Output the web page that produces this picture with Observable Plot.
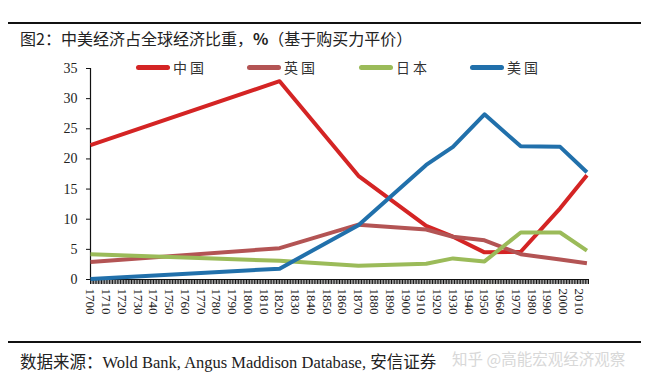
<!DOCTYPE html>
<html>
<head>
<meta charset="utf-8">
<script src="https://cdn.jsdelivr.net/npm/d3@7"></script>
<script src="https://cdn.jsdelivr.net/npm/@observablehq/plot@0.6"></script>
<style>
  html, body { margin: 0; padding: 0; background: #fff; }
  #wrap { position: relative; width: 652px; height: 388px; overflow: hidden; background: #fff; }
  .rule { position: absolute; left: 8px; width: 633px; height: 1.5px; background: #111; }
  #title { position: absolute; left: 20px; top: 26px; font-family: "Noto Sans CJK SC", sans-serif; font-size: 16px; color: #222; white-space: nowrap; }
  #source { position: absolute; left: 20px; top: 349px; font-family: "Liberation Serif", "Noto Sans CJK SC", serif; font-size: 16.5px; color: #222; white-space: nowrap; }
  #mark { position: absolute; left: 452px; top: 347px; font-family: "Noto Sans CJK SC", sans-serif; font-size: 15.5px; color: #d8d8d8; white-space: nowrap; }
  .sw { position: absolute; top: 65px; width: 34px; height: 5px; border-radius: 3px; }
  .lg { position: absolute; top: 57px; font-family: "Noto Sans CJK SC", sans-serif; font-size: 14px; color: #333; letter-spacing: 3px; }
  #chart { position: absolute; left: 0; top: 0; }
</style>
</head>
<body>
<div id="wrap">
  <div class="rule" style="top:22px"></div>
  <div id="title">图2：中美经济占全球经济比重，<b>%</b>（基于购买力平价）</div>
  <div id="chart"></div>
  <div id="legend"></div>
  <div class="rule" style="top:341px"></div>
  <div id="source">数据来源：Wold Bank, Angus Maddison Database, 安信证券</div>
  <div id="mark">知乎 @高能宏观经济观察</div>
</div>
<script>
// Data
const years = [1700, 1820, 1870, 1913, 1930, 1950, 1973, 1998, 2015];
const china = [22.3, 32.9, 17.2, 8.9, 7.1, 4.5, 4.6, 11.8, 17.3];
const uk    = [2.9, 5.2, 9.1, 8.3, 7.1, 6.5, 4.2, 3.3, 2.7];
const japan = [4.2, 3.1, 2.3, 2.6, 3.5, 3.0, 7.8, 7.8, 4.8];
const usa   = [0.1, 1.8, 9.0, 19.0, 22.0, 27.4, 22.1, 22.0, 17.8];
const countries = ["中国", "英国", "日本", "美国"];
const colors = ["#d42424", "#b35454", "#9bbb59", "#2170ab"];
const yTicks = [0, 5, 10, 15, 20, 25, 30, 35];
const decadeTicks = d3.range(1700, 2011, 10);
const yearTicks = d3.range(1700, 2017, 1);

const series = [china, uk, japan, usa];
const rows = [];
countries.forEach((c, i) => years.forEach((y, j) => rows.push({country: c, year: y, value: series[i][j]})));

const serif = "Liberation Serif, Times New Roman, serif";

const chart = Plot.plot({
  width: 652,
  height: 388,
  marginLeft: 90,
  marginRight: 64,
  marginTop: 68,
  marginBottom: 109,
  style: {background: "transparent", color: "#222"},
  x: {type: "linear", domain: [1700, 2016]},
  y: {domain: [0, 35]},
  color: {domain: countries, range: colors},
  marks: [
    Plot.axisY({ticks: yTicks, tickSize: 4, tickPadding: 9, fontSize: 14, fontFamily: serif, label: null, stroke: "#111"}),
    Plot.axisX({ticks: yearTicks, tickSize: 5, tickFormat: () => "", label: null, stroke: "#111"}),
    Plot.axisX({ticks: decadeTicks, tickSize: 0, tickPadding: 9, tickRotate: 90, tickFormat: d => String(d), fontSize: 13, fontFamily: serif, label: null}),
    Plot.ruleX([1700], {y1: 0, y2: 35, stroke: "#111", strokeWidth: 1.2}),
    Plot.ruleY([0], {stroke: "#111", strokeWidth: 1.2}),
    Plot.line(rows, {x: "year", y: "value", z: "country", stroke: "country", strokeWidth: 4, strokeLinejoin: "round", strokeLinecap: "butt"})
  ]
});
document.getElementById("chart").appendChild(chart);

// Legend
const legendX = [136, 247, 359, 470];
const legend = document.getElementById("legend");
countries.forEach((c, i) => {
  const sw = document.createElement("div");
  sw.className = "sw";
  sw.style.left = legendX[i] + "px";
  sw.style.background = colors[i];
  legend.appendChild(sw);
  const lb = document.createElement("div");
  lb.className = "lg";
  lb.style.left = (legendX[i] + 37) + "px";
  lb.textContent = c;
  legend.appendChild(lb);
});
</script>
</body>
</html>
